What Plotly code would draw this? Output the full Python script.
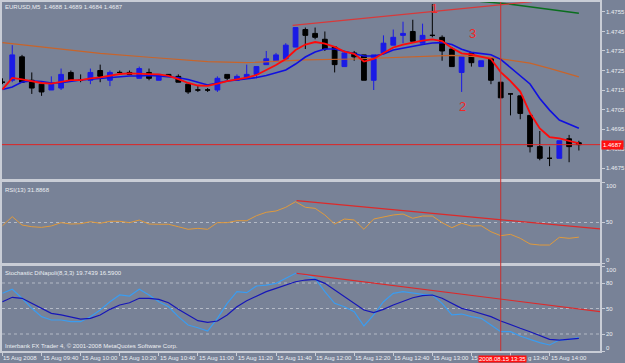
import plotly.graph_objects as go

# ---------------- data ----------------
bar_idx = list(range(60))   # M5 bars, 09:20 .. 14:15, 15 Aug 2008

opens = [1.4719, 1.4720, 1.4732, 1.4720, 1.4718, 1.4715, 1.4716, 1.4724, 1.4720, 1.4720,
         1.4725, 1.4720, 1.4724, 1.4724, 1.4721, 1.4724, 1.4720, 1.4723, 1.4722, 1.4718,
         1.4715, 1.4715, 1.4715, 1.4723, 1.4720, 1.4721, 1.4723, 1.4728, 1.4730, 1.4731,
         1.4737, 1.4746, 1.4744, 1.4741, 1.4737, 1.4727, 1.4734, 1.4733, 1.4720, 1.4734,
         1.4738, 1.4743, 1.4745, 1.4739, 1.4743, 1.4742, 1.4736, 1.4724, 1.4734, 1.4727,
         1.4731, 1.4719, 1.4713, 1.4712, 1.4702, 1.4686, 1.4680, 1.4680, 1.4690, 1.4688]
highs = [1.4721, 1.4738, 1.4733, 1.4724, 1.4719, 1.4722, 1.4726, 1.4725, 1.4723, 1.4726,
         1.4728, 1.4725, 1.4725, 1.4725, 1.4727, 1.4726, 1.4723, 1.4723, 1.4723, 1.4718,
         1.4717, 1.4716, 1.4722, 1.4723, 1.4723, 1.4728, 1.4727, 1.4735, 1.4734, 1.4739,
         1.4747, 1.4747, 1.4747, 1.4745, 1.4737, 1.4735, 1.4735, 1.4733, 1.4733, 1.4743,
         1.4746, 1.4750, 1.4751, 1.4749, 1.4759, 1.4743, 1.4737, 1.4732, 1.4734, 1.4730,
         1.4731, 1.4719, 1.4713, 1.4712, 1.4702, 1.4694, 1.4686, 1.4689, 1.4692, 1.4689]
lows = [1.4718, 1.4719, 1.4719, 1.4713, 1.4712, 1.4715, 1.4715, 1.4720, 1.4719, 1.4718,
        1.4719, 1.4717, 1.4724, 1.4723, 1.4721, 1.4720, 1.4720, 1.4722, 1.4719, 1.4713,
        1.4714, 1.4714, 1.4714, 1.4720, 1.4720, 1.4721, 1.4721, 1.4728, 1.4730, 1.4731,
        1.4737, 1.4736, 1.4741, 1.4735, 1.4724, 1.4727, 1.4730, 1.4720, 1.4715, 1.4734,
        1.4738, 1.4739, 1.4740, 1.4739, 1.4742, 1.4730, 1.4727, 1.4714, 1.4727, 1.4727,
        1.4718, 1.4711, 1.4702, 1.4700, 1.4683, 1.4679, 1.4676, 1.4680, 1.4678, 1.4684]
closes = [1.4719, 1.4733, 1.4719, 1.4716, 1.4714, 1.4718, 1.4723, 1.4720, 1.4720, 1.4724,
          1.4722, 1.4724, 1.4724, 1.4723, 1.4726, 1.4721, 1.4723, 1.4722, 1.4719, 1.4714,
          1.4715, 1.4715, 1.4721, 1.4721, 1.4722, 1.4723, 1.4727, 1.4731, 1.4733, 1.4738,
          1.4747, 1.4743, 1.4742, 1.4736, 1.4728, 1.4734, 1.4732, 1.4720, 1.4733, 1.4739,
          1.4742, 1.4744, 1.4740, 1.4743, 1.4743, 1.4735, 1.4727, 1.4732, 1.4729, 1.4730,
          1.4720, 1.4711, 1.4713, 1.4703, 1.4686, 1.4680, 1.4680, 1.4689, 1.4686, 1.4687]

ma_red = [1.47153, 1.47212, 1.47205, 1.47196, 1.47186, 1.47183, 1.47193, 1.47201, 1.47201, 1.47210,
          1.47215, 1.47222, 1.47232, 1.47235, 1.47232, 1.47231, 1.47230, 1.47222, 1.47206, 1.47186,
          1.47173, 1.47171, 1.47183, 1.47196, 1.47204, 1.47213, 1.47227, 1.47253, 1.47278, 1.47309,
          1.47355, 1.47383, 1.47396, 1.47388, 1.47371, 1.47347, 1.47335, 1.47296, 1.47309, 1.47340,
          1.47368, 1.47383, 1.47394, 1.47403, 1.47409, 1.47401, 1.47365, 1.47338, 1.47332, 1.47322,
          1.47309, 1.47242, 1.47196, 1.47142, 1.47032, 1.46953, 1.46909, 1.46902, 1.46890, 1.46877]
ma_blue = [1.47153, 1.47165, 1.47191, 1.47196, 1.47194, 1.47186, 1.47188, 1.47196, 1.47201, 1.47205,
           1.47210, 1.47215, 1.47218, 1.47222, 1.47222, 1.47225, 1.47222, 1.47218, 1.47213, 1.47204,
           1.47191, 1.47176, 1.47186, 1.47196, 1.47201, 1.47206, 1.47214, 1.47224, 1.47237, 1.47253,
           1.47283, 1.47319, 1.47345, 1.47360, 1.47360, 1.47347, 1.47336, 1.47324, 1.47324, 1.47335,
           1.47355, 1.47365, 1.47376, 1.47383, 1.47391, 1.47393, 1.47383, 1.47359, 1.47343, 1.47338,
           1.47331, 1.47307, 1.47265, 1.47227, 1.47181, 1.47107, 1.47047, 1.46996, 1.46976, 1.46954]
ma_orange_idx = [0, 5, 10, 15, 21, 25, 31, 36, 41, 46, 50, 54, 56, 59]
ma_orange = [1.47393, 1.47364, 1.47338, 1.47318, 1.47295, 1.47290, 1.47304, 1.47309,
             1.47318, 1.47327, 1.47317, 1.47288, 1.47261, 1.47217]
ma_green_idx = [47, 49, 52, 56, 59]
ma_green = [1.47625, 1.47603, 1.47590, 1.47564, 1.47543]

rsi = [46.0, 57.2, 46.9, 44.8, 44.0, 45.7, 49.8, 48.1, 48.5, 51.0,
       49.0, 51.5, 51.5, 49.8, 53.0, 48.1, 47.8, 47.8, 44.8, 41.6,
       42.8, 41.6, 49.8, 49.8, 52.2, 52.2, 58.4, 62.6, 64.2, 68.8,
       75.7, 68.8, 67.5, 59.3, 48.1, 54.3, 53.1, 41.6, 54.3, 57.2,
       59.3, 60.5, 55.2, 58.0, 58.0, 49.8, 43.6, 49.0, 45.7, 46.0,
       38.6, 33.7, 35.4, 30.5, 23.5, 22.2, 22.2, 31.7, 30.5, 31.9]
stoch_k = [67.9, 72.6, 62.0, 50.2, 40.4, 36.5, 36.5, 34.5, 34.5, 40.4,
           48.2, 58.0, 65.9, 64.7, 72.6, 65.9, 58.0, 52.1, 40.4, 30.6,
           27.4, 23.5, 38.4, 56.1, 69.8, 68.6, 76.5, 77.6, 79.6, 85.5,
           91.4, 89.4, 85.5, 69.8, 56.1, 52.1, 46.3, 29.4, 42.4, 58.0,
           67.9, 69.8, 67.9, 66.7, 65.9, 56.1, 42.4, 43.5, 40.4, 38.4,
           30.6, 22.7, 22.7, 17.6, 13.7, 9.8, 7.1, 12.9, 13.7, 15.7]
stoch_d = [58.0, 63.2, 62.0, 56.1, 50.2, 44.3, 42.4, 39.6, 37.6, 38.4,
           42.4, 49.0, 54.1, 56.8, 62.0, 62.0, 60.8, 56.8, 49.0, 42.4,
           35.7, 33.7, 35.3, 42.4, 52.1, 59.2, 64.7, 69.8, 73.7, 77.6,
           81.5, 83.5, 84.3, 79.6, 71.8, 63.9, 56.1, 48.2, 45.1, 49.0,
           54.1, 58.8, 62.7, 65.1, 65.9, 62.0, 56.1, 50.2, 47.4, 44.3,
           40.4, 35.3, 30.6, 26.7, 22.7, 18.0, 13.7, 12.9, 13.7, 14.9]

trend_price_idx = [29.7, 54.2]
trend_price = [1.47481, 1.47603]
trend_rsi_idx = [30.1, 61.2]
trend_rsi = [76.9, 42.0]
trend_stoch_idx = [30.1, 61.2]
trend_stoch = [91.4, 46.3]

wave_labels = ["1", "3", "2"]
wave_idx = [44.2, 48.1, 47.1]
wave_price = [1.47566, 1.47440, 1.47068]

price_ticks = [1.4675, 1.4685, 1.4695, 1.4705, 1.4715, 1.4725, 1.4735, 1.4745, 1.4755]
rsi_ticks = [0, 50, 100]
stoch_ticks = [0, 20, 50, 80, 100]
stoch_levels = [20, 50, 80]
rsi_levels = [50]

time_tick_idx = [0, 4, 8, 12, 16, 20, 24, 28, 32, 36, 40, 44, 48, 52, 56]
# labels as visible; 13:20 and 13:40 are partly hidden by the cursor-time box
time_tick_labels = ["15 Aug 2008", "15 Aug 09:40", "15 Aug 10:00", "15 Aug 10:20",
                    "15 Aug 10:40", "15 Aug 11:00", "15 Aug 11:20", "15 Aug 11:40",
                    "15 Aug 12:00", "15 Aug 12:20", "15 Aug 12:40", "15 Aug 13:00",
                    "15", "g 13:40", "15 Aug 14:00"]
cursor_bar = 51
cursor_label = "2008.08.15 13:35"
bid_price = 1.4687
bid_label = "1.4687"

title_main = "EURUSD,M5  1.4688 1.4689 1.4684 1.4687"
title_rsi = "RSI(13) 31.8868"
title_stoch = "Stochastic DiNapoli(8,3,3) 19.7439 16.5900"
copyright_text = "Interbank FX Trader 4, \u00a9 2001-2008 MetaQuotes Software Corp."

# ---------------- styling ----------------
W, H = 625, 363
BG = "#788297"
FRAME = "#c9cdd6"
TXT = "#eceef2"
FONT = "Liberation Sans"

def py(p):  # pixel row -> paper y
    return 1 - p / H

x_dom = [2 / W, 602 / W]
dom_main = [py(179), py(2)]
dom_rsi = [py(263), py(182)]
dom_sto = [py(351), py(266)]

fig = go.Figure()

bull = [i for i in bar_idx if closes[i] > opens[i]]
bear = [i for i in bar_idx if closes[i] <= opens[i]]

def candle(ids, color):
    side = dict(line=dict(color=color, width=1), fillcolor=color)
    return go.Candlestick(
        x=[bar_idx[i] for i in ids], open=[opens[i] for i in ids],
        high=[highs[i] for i in ids], low=[lows[i] for i in ids],
        close=[closes[i] for i in ids], increasing=side, decreasing=side,
        whiskerwidth=0, showlegend=False, hoverinfo="skip", xaxis="x", yaxis="y")

fig.add_trace(candle(bull, "#1a1ae6"))
fig.add_trace(candle(bear, "#000000"))

fig.add_trace(go.Scatter(x=ma_orange_idx, y=ma_orange, mode="lines",
                         line=dict(color="#c8642a", width=1.2), xaxis="x", yaxis="y", showlegend=False))
fig.add_trace(go.Scatter(x=ma_green_idx, y=ma_green, mode="lines",
                         line=dict(color="#0a6e1e", width=1.5), xaxis="x", yaxis="y", showlegend=False))
fig.add_trace(go.Scatter(x=bar_idx, y=ma_blue, mode="lines",
                         line=dict(color="#1010e0", width=1.6), xaxis="x", yaxis="y", showlegend=False))
fig.add_trace(go.Scatter(x=bar_idx, y=ma_red, mode="lines",
                         line=dict(color="#ff0a0a", width=1.8), xaxis="x", yaxis="y", showlegend=False))
fig.add_trace(go.Scatter(x=trend_price_idx, y=trend_price, mode="lines",
                         line=dict(color="#d8393a", width=1.2), xaxis="x", yaxis="y", showlegend=False))

fig.add_trace(go.Scatter(x=bar_idx, y=rsi, mode="lines",
                         line=dict(color="#e09a3c", width=1), xaxis="x2", yaxis="y2", showlegend=False))
fig.add_trace(go.Scatter(x=trend_rsi_idx, y=trend_rsi, mode="lines",
                         line=dict(color="#dd2a2a", width=1.2), xaxis="x2", yaxis="y2", showlegend=False))

fig.add_trace(go.Scatter(x=bar_idx, y=stoch_k, mode="lines",
                         line=dict(color="#3a9cf0", width=1.2), xaxis="x3", yaxis="y3", showlegend=False))
fig.add_trace(go.Scatter(x=bar_idx, y=stoch_d, mode="lines",
                         line=dict(color="#1616b8", width=1.2), xaxis="x3", yaxis="y3", showlegend=False))
fig.add_trace(go.Scatter(x=trend_stoch_idx, y=trend_stoch, mode="lines",
                         line=dict(color="#dd2a2a", width=1.2), xaxis="x3", yaxis="y3", showlegend=False))

x_range = [-0.05, 61.17]
ax_common = dict(showline=True, mirror=True, linecolor=FRAME, linewidth=1.5,
                 showgrid=False, zeroline=False)
tickfont = dict(family=FONT, size=6, color=TXT)

shapes = []
for lv in rsi_levels:
    shapes.append(dict(type="line", xref="paper", x0=x_dom[0], x1=x_dom[1], yref="y2", y0=lv, y1=lv,
                       line=dict(color="#b4bac6", width=1, dash="dot"), layer="below"))
for lv in stoch_levels:
    shapes.append(dict(type="line", xref="paper", x0=x_dom[0], x1=x_dom[1], yref="y3", y0=lv, y1=lv,
                       line=dict(color="#b4bac6", width=1, dash="dot"), layer="below"))
shapes.append(dict(type="line", xref="paper", x0=x_dom[0], x1=x_dom[1], yref="y", y0=bid_price, y1=bid_price,
                   line=dict(color="#e02424", width=1)))
shapes.append(dict(type="line", xref="x", x0=cursor_bar, x1=cursor_bar, yref="paper", y0=dom_sto[0], y1=dom_main[1],
                   line=dict(color="#c83030", width=1)))

annotations = []
def txt(x, y, s, size=6, color=TXT, **kw):
    d = dict(x=x, y=y, xref="paper", yref="paper", text=s, showarrow=False,
             xanchor="left", yanchor="middle", font=dict(family=FONT, size=size, color=color))
    d.update(kw)
    annotations.append(d)

txt(3 / W, py(7), title_main)
txt(3 / W, py(190), title_rsi)
txt(3 / W, py(273), title_stoch)
txt(3 / W, py(346), copyright_text)

# indicator-window scale labels (kept inside their own window, like the terminal does)
def scale_labels(ticks, yref):
    for v in ticks:
        shift = -4 if v == 100 else (3 if v == 0 else 0)
        annotations.append(dict(x=606 / W, y=v, xref="paper", yref=yref, text=str(v), showarrow=False,
                                xanchor="left", yanchor="middle", yshift=shift,
                                font=dict(family=FONT, size=6, color=TXT)))
scale_labels(rsi_ticks, "y2")
scale_labels(stoch_ticks, "y3")

for i, lab in zip(time_tick_idx, time_tick_labels):
    if lab.startswith("g "):
        annotations.append(dict(x=528 / W, y=py(358), xref="paper", yref="paper", text=lab, showarrow=False,
                                xanchor="left", yanchor="middle",
                                font=dict(family=FONT, size=6, color=TXT)))
        continue
    annotations.append(dict(x=i, y=py(358), xref="x3", yref="paper", text=lab, showarrow=False,
                            xanchor="left", yanchor="middle", xshift=-2 if lab == "15" else -1,
                            font=dict(family=FONT, size=6, color=TXT)))
annotations.append(dict(x=cursor_bar, y=py(358.5), xref="x3", yref="paper", text=cursor_label,
                        showarrow=False, xanchor="center", yanchor="middle", bgcolor="#ff1010",
                        borderpad=0, xshift=1.5, font=dict(family=FONT, size=6, color="#ffffff")))
annotations.append(dict(x=603 / W, y=bid_price, xref="paper", yref="y", text=bid_label,
                        showarrow=False, xanchor="left", yanchor="middle", bgcolor="#ff1010",
                        borderpad=1, font=dict(family=FONT, size=6, color="#ffffff")))
for lab, i, p in zip(wave_labels, wave_idx, wave_price):
    annotations.append(dict(x=i, y=p, xref="x", yref="y", text=lab, showarrow=False,
                            xanchor="center", yanchor="middle",
                            font=dict(family=FONT, size=13, color="#f02828")))

fig.update_layout(
    width=W, height=H, margin=dict(l=0, r=0, t=0, b=0),
    paper_bgcolor=BG, plot_bgcolor=BG, showlegend=False,
    xaxis=dict(domain=x_dom, anchor="y", range=x_range, showticklabels=False,
               rangeslider=dict(visible=False), **ax_common),
    xaxis2=dict(domain=x_dom, anchor="y2", matches="x", range=x_range, showticklabels=False, **ax_common),
    xaxis3=dict(domain=x_dom, anchor="y3", matches="x", range=x_range, showticklabels=False,
                tickvals=time_tick_idx, ticks="outside", ticklen=3, tickcolor=FRAME, **ax_common),
    yaxis=dict(domain=dom_main, anchor="x", side="right", range=[1.46694, 1.47601],
               tickvals=price_ticks, tickformat=".4f", ticks="outside", ticklen=3,
               tickcolor=FRAME, tickfont=tickfont, **ax_common),
    yaxis2=dict(domain=dom_rsi, anchor="x2", side="right", range=[0, 100], tickvals=rsi_ticks,
                ticks="outside", ticklen=3, tickcolor=FRAME, showticklabels=False, **ax_common),
    yaxis3=dict(domain=dom_sto, anchor="x3", side="right", range=[0, 100], tickvals=stoch_ticks,
                ticks="outside", ticklen=3, tickcolor=FRAME, showticklabels=False, **ax_common),
    shapes=shapes, annotations=annotations,
)

fig.write_html("out.html")
